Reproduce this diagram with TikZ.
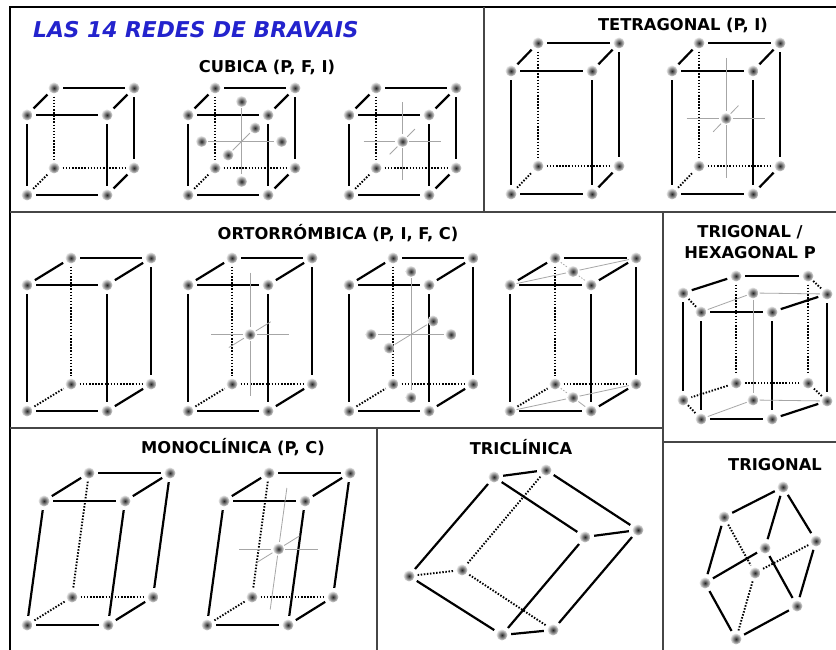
\documentclass[tikz,border=0pt]{standalone}
\usepackage{fontspec}
\setmainfont{DejaVu Sans}
\usetikzlibrary{calc}
\definecolor{titleblue}{RGB}{35,35,205}
\definecolor{divgray}{RGB}{70,70,70}
\tikzset{
  pt/.style={circle, minimum size=11pt, inner sep=0pt, draw=none, inner color=black!85, outer color=gray!20},
  sol/.style={line width=2.2pt, shorten <=3.5pt, shorten >=3.5pt},
  hid/.style={line width=1.9pt, dash pattern=on 1.5pt off 1.6pt, shorten <=3pt, shorten >=3pt},
  gl/.style={line width=0.8pt, draw=gray!70, shorten <=1pt, shorten >=1.5pt},
  gld/.style={line width=0.8pt, draw=gray!70, dash pattern=on 1.5pt off 1.5pt, shorten <=1.5pt, shorten >=1.5pt},
  divl/.style={line width=1.6pt, draw=divgray},
  ttl/.style={font=\bfseries\fontsize{16.3}{18}\selectfont, inner sep=0pt}
}
% name, x, y, w, h, dx, dy, tilt
\newcommand\latbox[8]{%
  \node[pt] (#1-ftl) at (#2,#3) {};
  \node[pt] (#1-ftr) at ({#2+#4},#3) {};
  \node[pt] (#1-btl) at ({#2+#6},{#3-#7}) {};
  \node[pt] (#1-btr) at ({#2+#4+#6},{#3-#7}) {};
  \node[pt] (#1-fbl) at ({#2-#8},{#3+#5}) {};
  \node[pt] (#1-fbr) at ({#2+#4-#8},{#3+#5}) {};
  \node[pt] (#1-bbl) at ({#2+#6-#8},{#3+#5-#7}) {};
  \node[pt] (#1-bbr) at ({#2+#4+#6-#8},{#3+#5-#7}) {};
  \draw[sol] (#1-ftl) -- (#1-ftr);
  \draw[sol] (#1-ftl) -- (#1-btl);
  \draw[sol] (#1-btl) -- (#1-btr);
  \draw[sol] (#1-btr) -- (#1-ftr);
  \draw[sol] (#1-ftl) -- (#1-fbl);
  \draw[sol] (#1-ftr) -- (#1-fbr);
  \draw[sol] (#1-btr) -- (#1-bbr);
  \draw[sol] (#1-fbl) -- (#1-fbr);
  \draw[sol] (#1-fbr) -- (#1-bbr);
  \draw[hid] (#1-btl) -- (#1-bbl);
  \draw[hid] (#1-bbl) -- (#1-bbr);
  \draw[hid] (#1-fbl) -- (#1-bbl);
}
\newcommand\mkfaces[1]{%
  \coordinate (#1-Tc) at ($(#1-ftl)!0.5!(#1-btr)$);
  \coordinate (#1-Bc) at ($(#1-fbl)!0.5!(#1-bbr)$);
  \coordinate (#1-Fc) at ($(#1-ftl)!0.5!(#1-fbr)$);
  \coordinate (#1-Kc) at ($(#1-btl)!0.5!(#1-bbr)$);
  \coordinate (#1-Lc) at ($(#1-ftl)!0.5!(#1-bbl)$);
  \coordinate (#1-Rc) at ($(#1-ftr)!0.5!(#1-bbr)$);
  \coordinate (#1-Cc) at ($(#1-ftl)!0.5!(#1-bbr)$);
}
% face centred
\newcommand\fcent[1]{%
  \mkfaces{#1}
  \node[pt] (#1-T) at (#1-Tc) {};
  \node[pt] (#1-B) at (#1-Bc) {};
  \node[pt] (#1-F) at (#1-Fc) {};
  \node[pt] (#1-K) at (#1-Kc) {};
  \node[pt] (#1-L) at (#1-Lc) {};
  \node[pt] (#1-R) at (#1-Rc) {};
  \draw[gl] (#1-T) -- (#1-B);
  \draw[gl] (#1-L) -- (#1-R);
  \draw[gl] (#1-F) -- (#1-K);
}
% body centred
\newcommand\bcent[1]{%
  \mkfaces{#1}
  \node[pt] (#1-C) at (#1-Cc) {};
  \draw[gl] (#1-Tc) -- (#1-C);
  \draw[gl] (#1-C) -- (#1-Bc);
  \draw[gl] (#1-Lc) -- (#1-C);
  \draw[gl] (#1-C) -- (#1-Rc);
  \draw[gl] (#1-Fc) -- (#1-C);
  \draw[gl] (#1-C) -- (#1-Kc);
}
\begin{document}
\begin{tikzpicture}[x=1pt,y=-1pt]
\useasboundingbox (0,0) rectangle (836,650);
\fill[white] (0,0) rectangle (836,650);

% frame and dividers
\draw[line width=2.4pt] (10,650) -- (10,7) -- (836,7);
\draw[divl] (484,7) -- (484,212);
\draw[divl] (10,212) -- (836,212);
\draw[divl] (663,212) -- (663,650);
\draw[divl] (10,428) -- (663,428);
\draw[divl] (663,442) -- (836,442);
\draw[divl] (377,428) -- (377,650);

% titles
\node[anchor=west, inner sep=0pt, text=titleblue, font=\bfseries\itshape\fontsize{21.8}{24}\selectfont] (title) at (33,30) {LAS 14 REDES DE BRAVAIS};
\node[ttl] (tcub) at (267,67) {CUBICA (P, F, I)};
\node[ttl] (ttet) at (683,25) {TETRAGONAL (P, I)};
\node[ttl] (tort) at (338,233) {ORTORRÓMBICA (P, I, F, C)};
\node[ttl, align=center, font=\bfseries\fontsize{16.3}{21}\selectfont] (thex) at (750,242) {TRIGONAL /\\HEXAGONAL P};
\node[ttl] (tmon) at (233,447) {MONOCLÍNICA (P, C)};
\node[ttl] (ttri) at (521,447) {TRICLÍNICA};
\node[ttl] (ttrg) at (775,465) {TRIGONAL};

% cubic
\latbox{CP}{27}{115}{80}{80}{27}{27}{0}
\latbox{CF}{188}{115}{80}{80}{27}{27}{0}
\fcent{CF}
\latbox{CI}{349}{115}{80}{80}{27}{27}{0}
\bcent{CI}

% tetragonal
\latbox{TP}{511}{71}{81}{123}{27}{28}{0}
\latbox{TI}{672}{71}{81}{123}{27}{28}{0}
\bcent{TI}

% orthorhombic
\latbox{OP}{27}{285}{80}{126}{44}{27}{0}
\latbox{OI}{188}{285}{80}{126}{44}{27}{0}
\bcent{OI}
\latbox{OF}{349}{285}{80}{126}{44}{27}{0}
\fcent{OF}
\latbox{OC}{510}{285}{81}{126}{45}{27}{0}
\mkfaces{OC}
\node[pt] (OC-T) at (OC-Tc) {};
\node[pt] (OC-B) at (OC-Bc) {};
\draw[gl] (OC-ftl) -- (OC-T);
\draw[gl] (OC-T) -- (OC-btr);
\draw[gld] (OC-btl) -- (OC-T);
\draw[gld] (OC-T) -- (OC-ftr);
\draw[gl] (OC-fbl) -- (OC-B);
\draw[gl] (OC-B) -- (OC-bbr);
\draw[gld] (OC-bbl) -- (OC-B);
\draw[gl] (OC-B) -- (OC-fbr);

% hexagonal
\node[pt] (H-BL) at (736,276) {};
\node[pt] (H-BR) at (808,276) {};
\node[pt] (H-L)  at (683,293) {};
\node[pt] (H-R)  at (827,294) {};
\node[pt] (H-FL) at (701,312) {};
\node[pt] (H-FR) at (772,312) {};
\node[pt] (H-C)  at (753,293) {};
\node[pt] (H-BLb) at (736,383) {};
\node[pt] (H-BRb) at (808,383) {};
\node[pt] (H-Lb)  at (683,400) {};
\node[pt] (H-Rb)  at (827,401) {};
\node[pt] (H-FLb) at (701,419) {};
\node[pt] (H-FRb) at (772,419) {};
\node[pt] (H-Cb)  at (753,400) {};
\draw[sol] (H-L) -- (H-BL);
\draw[sol] (H-BL) -- (H-BR);
\draw[sol] (H-R) -- (H-FR);
\draw[sol] (H-FR) -- (H-FL);
\draw[hid, shorten <=1.5pt, shorten >=1.5pt] (H-BR) -- (H-R);
\draw[hid, shorten <=1.5pt, shorten >=1.5pt] (H-FL) -- (H-L);
\draw[gl] (H-C) -- (H-R);
\draw[gl] (H-C) -- (H-FL);
\draw[sol] (H-L) -- (H-Lb);
\draw[sol] (H-FL) -- (H-FLb);
\draw[sol] (H-FR) -- (H-FRb);
\draw[sol] (H-R) -- (H-Rb);
\draw[hid] (H-BL) -- (H-BLb);
\draw[hid] (H-BR) -- (H-BRb);
\draw[gl] (H-C) -- (H-Cb);
\draw[sol] (H-FLb) -- (H-FRb);
\draw[sol] (H-FRb) -- (H-Rb);
\draw[hid, shorten <=1.5pt, shorten >=1.5pt] (H-Lb) -- (H-FLb);
\draw[hid, shorten <=1.5pt, shorten >=1.5pt] (H-Rb) -- (H-BRb);
\draw[hid] (H-BRb) -- (H-BLb);
\draw[hid] (H-BLb) -- (H-Lb);
\draw[gl] (H-Cb) -- (H-Rb);
\draw[gl] (H-Cb) -- (H-FLb);

% monoclinic
\latbox{MP}{44}{501}{81}{124}{45}{28}{17}
\latbox{MC}{224}{501}{81}{124}{45}{28}{17}
\bcent{MC}

% triclinic
\node[pt] (K-A) at (494,477) {};
\node[pt] (K-B) at (546,470) {};
\node[pt] (K-C) at (585,537) {};
\node[pt] (K-D) at (638,530) {};
\node[pt] (K-E) at (409,576) {};
\node[pt] (K-F) at (462,570) {};
\node[pt] (K-G) at (502,635) {};
\node[pt] (K-H) at (553,630) {};
\draw[sol] (K-A) -- (K-B);
\draw[sol] (K-B) -- (K-D);
\draw[sol] (K-A) -- (K-C);
\draw[sol] (K-C) -- (K-D);
\draw[sol] (K-A) -- (K-E);
\draw[sol] (K-C) -- (K-G);
\draw[sol] (K-D) -- (K-H);
\draw[sol] (K-E) -- (K-G);
\draw[sol] (K-G) -- (K-H);
\draw[hid] (K-B) -- (K-F);
\draw[hid] (K-E) -- (K-F);
\draw[hid] (K-F) -- (K-H);

% trigonal (rhombohedral)
\node[pt] (R-T)  at (783,487) {};
\node[pt] (R-P1) at (724,517) {};
\node[pt] (R-P2) at (765,548) {};
\node[pt] (R-P3) at (816,541) {};
\node[pt] (R-Q1) at (705,583) {};
\node[pt] (R-Q2) at (755,573) {};
\node[pt] (R-Q3) at (797,606) {};
\node[pt] (R-B)  at (736,639) {};
\draw[sol] (R-T) -- (R-P1);
\draw[sol] (R-T) -- (R-P2);
\draw[sol] (R-T) -- (R-P3);
\draw[sol] (R-P1) -- (R-Q1);
\draw[sol] (R-P2) -- (R-Q1);
\draw[sol] (R-P2) -- (R-Q3);
\draw[sol] (R-P3) -- (R-Q3);
\draw[sol] (R-Q1) -- (R-B);
\draw[sol] (R-Q3) -- (R-B);
\draw[hid] (R-P1) -- (R-Q2);
\draw[hid] (R-P3) -- (R-Q2);
\draw[hid] (R-Q2) -- (R-B);
\end{tikzpicture}
\end{document}
